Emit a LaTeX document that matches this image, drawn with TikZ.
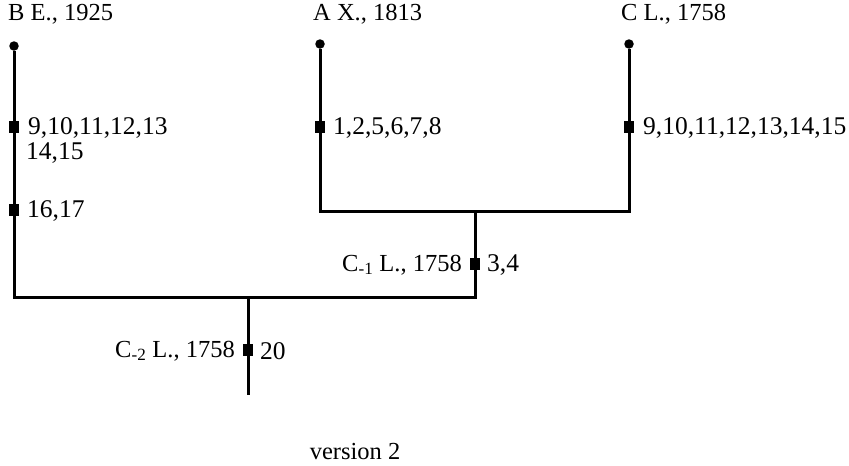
\documentclass[tikz,border=0pt]{standalone}
\usepackage{fontspec}
\setmainfont{Liberation Serif}
\begin{document}
\begin{tikzpicture}[x=1pt,y=-1pt,
  lbl/.style={font=\fontsize{24.5}{28}\selectfont, inner sep=0pt},
  numlbl/.style={font=\fontsize{25.5}{28}\selectfont, inner sep=0pt},
  tipdot/.style={circle, fill=black, inner sep=0pt, minimum size=9.5pt},
  sqbox/.style={rectangle, fill=black, inner sep=0pt, minimum width=9.5pt, minimum height=12pt},
  ln/.style={line width=3pt, line join=miter}]
\useasboundingbox (0,0) rectangle (849,466);
% tips
\node[tipdot] (dB) at (14,46) {};
\node[tipdot] (dA) at (320,44) {};
\node[tipdot] (dC) at (629,44) {};
% markers
\node[sqbox] (sB1) at (14,127) {};
\node[sqbox] (sB2) at (14,210) {};
\node[sqbox] (sA) at (320,127) {};
\node[sqbox] (sC) at (629,127) {};
\node[sqbox] (s1) at (475,264) {};
\node[sqbox] (s2) at (248,350) {};
% corners
\coordinate (cA) at (320,211);
\coordinate (cC) at (629,211);
\coordinate (j1) at (475,211);
\coordinate (cB) at (14,297);
\coordinate (j2) at (475,297);
\coordinate (r) at (248,297);
\coordinate (rootend) at (248,395);
% branches
\draw[ln] (dB) -- (sB1) -- (sB2) -- (cB) -- (j2) -- (s1) -- (j1);
\draw[ln] (dA) -- (sA) -- (cA) -- (cC) -- (sC) -- (dC);
\draw[ln] (r) -- (s2) -- (rootend);
% labels
\node[lbl, anchor=west] (tB) at (8,14) {B E., 1925};
\node[lbl, anchor=west] (tA) at (313,14) {A X., 1813};
\node[lbl, anchor=west] (tC) at (621,14) {C L., 1758};
\node[numlbl, anchor=west] (nB1) at (28,128) {9,10,11,12,13};
\node[numlbl, anchor=west] (nB1b) at (26,153) {14,15};
\node[numlbl, anchor=west] (nB2) at (27,211) {16,17};
\node[numlbl, anchor=west] (nA) at (333,128) {1,2,5,6,7,8};
\node[numlbl, anchor=west] (nC) at (643,128) {9,10,11,12,13,14,15};
\node[lbl, anchor=east] (lc1) at (462,265) {C\textsubscript{-1} L., 1758};
\node[numlbl, anchor=west] (n1) at (487,265) {3,4};
\node[lbl, anchor=east] (lc2) at (235,351) {C\textsubscript{-2} L., 1758};
\node[numlbl, anchor=west] (n2) at (260,351) {20};
\node[lbl] (ver) at (355,452) {version 2};
\end{tikzpicture}
\end{document}
